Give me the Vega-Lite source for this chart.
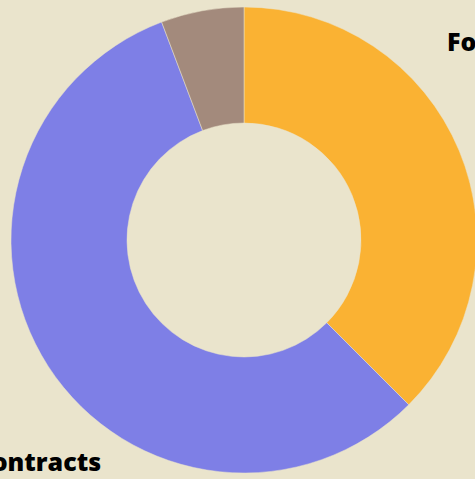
{
  "$schema": "https://vega.github.io/schema/vega-lite/v6.json",
  "width": 462,
  "height": 470,
  "padding": {"left": 13, "top": 5, "right": 0, "bottom": 4},
  "autosize": {"type": "none"},
  "background": "#EAE4CC",
  "config": {"view": {"stroke": null}},
  "data": {
    "values": [
      {"category": "Food", "value": 37.5, "order": 1},
      {"category": "Contracts", "value": 56.75, "order": 2},
      {"category": "Other", "value": 5.75, "order": 3}
    ]
  },
  "layer": [
    {
      "mark": {"type": "arc", "outerRadius": 233, "innerRadius": 117, "stroke": "#EAE4CC", "strokeWidth": 0.5},
      "encoding": {
        "theta": {"field": "value", "type": "quantitative", "stack": true},
        "order": {"field": "order", "type": "quantitative"},
        "color": {
          "field": "category",
          "type": "nominal",
          "scale": {"domain": ["Food", "Contracts", "Other"], "range": ["#FAB233", "#7E7FE6", "#A38A7C"]},
          "legend": null
        }
      }
    },
    {
      "mark": {"type": "text", "radius": 305, "dx": -5, "dy": -7, "fontSize": 25, "fontWeight": 800, "font": "Open Sans", "color": "#000000", "align": "center", "baseline": "middle"},
      "encoding": {
        "theta": {"field": "value", "type": "quantitative", "stack": true, "scale": {"range": [-0.279, 6.004]}},
        "order": {"field": "order", "type": "quantitative"},
        "text": {"field": "category", "type": "nominal"}
      }
    }
  ],
  "resolve": {"scale": {"theta": "independent"}}
}
